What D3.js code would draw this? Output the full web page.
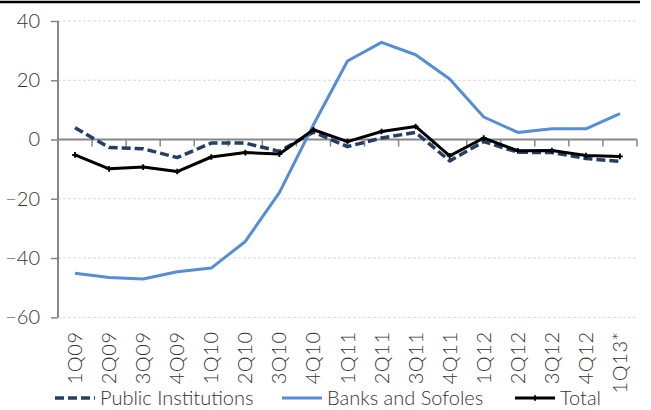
<!DOCTYPE html>
<html>
<head>
<meta charset="utf-8">
<script src="https://cdn.jsdelivr.net/npm/d3@7"></script>
<style>
  body { margin: 0; background: #fff; }
  svg text { font-family: Lato, "Open Sans", sans-serif; font-weight: 300; fill: #333; }
</style>
</head>
<body>
<div class="chart"></div>
<script>
var categories = ["1Q09", "2Q09", "3Q09", "4Q09", "1Q10", "2Q10", "3Q10", "4Q10",
    "1Q11", "2Q11", "3Q11", "4Q11", "1Q12", "2Q12", "3Q12", "4Q12", "1Q13*"];

var publicInst = [4.0, -2.7, -3.1, -6.1, -1.2, -1.2, -4.0, 2.5,
    -2.4, 0.5, 2.4, -7.2, -0.7, -4.3, -4.4, -6.4, -7.4];

var banks = [-45.1, -46.6, -47.1, -44.6, -43.4, -34.4, -17.9, 5.0,
    26.5, 32.8, 28.6, 20.4, 7.6, 2.4, 3.6, 3.6, 8.7];

var total = [-5.2, -9.9, -9.3, -10.8, -5.9, -4.4, -4.9, 3.3,
    -0.7, 2.7, 4.4, -5.5, 0.5, -3.8, -3.7, -5.4, -5.7];

var yTicks = [40, 20, 0, -20, -40, -60];

var series = [
    {name: "Public Institutions", values: publicInst, color: "#243f63", width: 3.5, dash: "9,4"},
    {name: "Banks and Sofoles", values: banks, color: "#558ed5", width: 3, dash: null},
    {name: "Total", values: total, color: "#000", width: 3, dash: null, marker: true}
];

var W = 651, H = 410;
var plotLeft = 58, plotRight = 637, plotTop = 21, plotBottom = 317.3;

var svg = d3.select(".chart").append("svg")
    .attr("width", W).attr("height", H);

// top rule
svg.append("line")
    .attr("x1", 0).attr("x2", 640)
    .attr("y1", 2).attr("y2", 2)
    .attr("stroke", "#000").attr("stroke-width", 2.5);

var x = d3.scaleBand().domain(categories).range([plotLeft, plotRight]);
var y = d3.scaleLinear().domain([-60, 40]).range([plotBottom, plotTop]);

// grid
svg.append("g")
    .selectAll("line")
    .data(yTicks.filter(function (d) { return d !== 0; }))
    .enter().append("line")
    .attr("x1", plotLeft).attr("x2", plotRight)
    .attr("y1", function (d) { return y(d); })
    .attr("y2", function (d) { return y(d); })
    .attr("stroke", "#d9d9d9").attr("stroke-width", 1)
    .attr("stroke-dasharray", "3,2");

// y axis
var yAxis = svg.append("g")
    .attr("transform", "translate(" + plotLeft + ",0)")
    .call(d3.axisLeft(y).tickValues(yTicks).tickSize(7).tickPadding(11)
        .tickFormat(d3.format("d")));
yAxis.select(".domain").attr("stroke", "#868686").attr("stroke-width", 2)
    .attr("d", "M0," + plotTop + "V" + plotBottom);
yAxis.selectAll(".tick line").attr("stroke", "#868686").attr("stroke-width", 1.5);
yAxis.selectAll("text").attr("font-size", 20).attr("fill", "#333")
    .style("font-family", "Lato, sans-serif").style("font-weight", 300);

// x axis along zero line
var zero = svg.append("g").attr("transform", "translate(0," + y(0) + ")");
zero.append("line")
    .attr("x1", plotLeft).attr("x2", plotRight)
    .attr("stroke", "#868686").attr("stroke-width", 2);
zero.selectAll("line.tk")
    .data(categories)
    .enter().append("line")
    .attr("class", "tk")
    .attr("x1", function (d) { return x(d) + x.bandwidth(); })
    .attr("x2", function (d) { return x(d) + x.bandwidth(); })
    .attr("y1", 0).attr("y2", 7)
    .attr("stroke", "#868686").attr("stroke-width", 1.5);

// category labels
svg.append("g")
    .selectAll("text")
    .data(categories)
    .enter().append("text")
    .attr("transform", function (d) {
        return "translate(" + (x(d) + x.bandwidth() / 2) + "," + (plotBottom + 14) + ") rotate(-90)";
    })
    .attr("text-anchor", "end")
    .attr("dy", "0.35em")
    .attr("font-size", 20)
    .style("letter-spacing", "0.6px")
    .text(function (d) { return d; });

// lines
var line = d3.line()
    .x(function (d, i) { return x(categories[i]) + x.bandwidth() / 2; })
    .y(function (d) { return y(d); });

series.forEach(function (s) {
    svg.append("path")
        .datum(s.values)
        .attr("d", line)
        .attr("fill", "none")
        .attr("stroke", s.color)
        .attr("stroke-width", s.width)
        .attr("stroke-dasharray", s.dash)
        .attr("stroke-linejoin", "round");
    if (s.marker) {
        svg.append("g").selectAll("path")
            .data(s.values)
            .enter().append("path")
            .attr("d", d3.symbol().type(d3.symbolCross).size(18))
            .attr("transform", function (d, i) {
                return "translate(" + (x(categories[i]) + x.bandwidth() / 2) + "," + y(d) + ")";
            })
            .attr("fill", s.color);
    }
});

// legend
var legendX = [55, 282, 515];
var leg = svg.append("g").attr("class", "legend")
    .selectAll("g")
    .data(series)
    .enter().append("g")
    .attr("transform", function (d, i) { return "translate(" + legendX[i] + ",398)"; });
leg.append("line")
    .attr("x1", 0).attr("x2", 40)
    .attr("stroke", function (d) { return d.color; })
    .attr("stroke-width", function (d) { return d.width; })
    .attr("stroke-dasharray", function (d) { return d.dash; });
leg.filter(function (d) { return d.marker; })
    .append("path")
    .attr("d", d3.symbol().type(d3.symbolCross).size(18))
    .attr("transform", "translate(20,0)");
leg.append("text")
    .attr("x", 45)
    .attr("dy", "0.35em")
    .attr("font-size", 20)
    .text(function (d) { return d.name; });
</script>
</body>
</html>
